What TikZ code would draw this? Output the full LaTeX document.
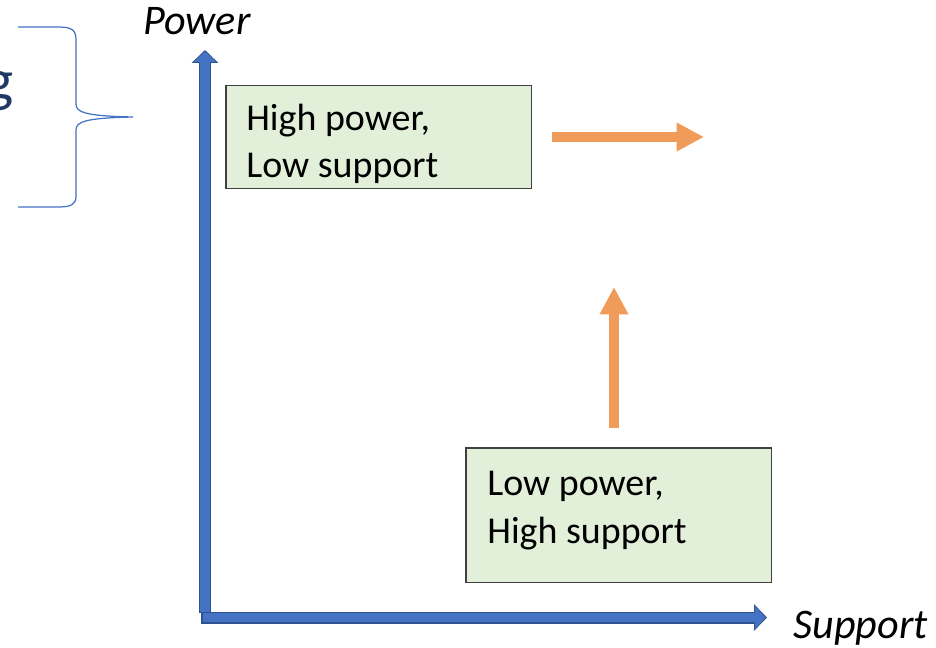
\documentclass[tikz,border=0pt]{standalone}
\usepackage{fontspec}
\setmainfont{Carlito}
\usepackage{xcolor}
\usepackage{tikz}
\usetikzlibrary{arrows.meta, positioning}
\definecolor{axisblue}{RGB}{68,114,196}
\definecolor{axisedge}{RGB}{47,82,143}
\definecolor{boxgreen}{RGB}{226,240,217}
\definecolor{pushorange}{RGB}{241,155,90}
\definecolor{navy}{RGB}{32,56,100}

\begin{document}
\begin{tikzpicture}[
  x=0.02cm, y=-0.02cm,
  box/.style={rectangle, draw=black!75, line width=0.03cm, fill=boxgreen, inner sep=0pt, anchor=north west},
  boxtext/.style={align=left, inner sep=0pt, anchor=base west, font=\fontsize{21.6}{27.3}\selectfont},
  axislabel/.style={inner sep=0pt, anchor=base west, font=\fontsize{24}{28}\selectfont\itshape},
  axis/.style={draw=axisedge, line width=0.24cm, -{Triangle[width=0.52cm, length=0.26cm]}},
  axisfill/.style={draw=axisblue, line width=0.19cm, shorten <=0.03cm, shorten >=0.03cm, -{Triangle[width=0.44cm, length=0.21cm]}},
  arrow/.style={draw=pushorange, line width=0.2cm, -{Triangle[width=0.54cm, length=0.55cm]}},
]
  \useasboundingbox (0,0) rectangle (936,648);

  \node[font=\fontsize{34}{40}\selectfont, text=navy, inner sep=0pt, anchor=base east] (cutword) at (14,101) {g};
  \draw[axisblue, line width=0.025cm] (18,27) -- (58,27) .. controls (72,27) and (76,30) .. (76,40) -- (76,104)
    .. controls (76,112) and (84,116) .. (133,117) .. controls (84,118) and (76,122) .. (76,130) -- (76,196)
    .. controls (76,204) and (72,207) .. (58,207) -- (18,207);

  \coordinate (origin) at (205,613);
  \coordinate (powertop) at (205,50);
  \coordinate (supportstart) at (201,617.5);
  \coordinate (supportend) at (767,617.5);
  \draw[axis] (origin) -- (powertop);
  \draw[axisfill] (origin) -- (powertop);
  \draw[axis] (supportstart) -- (supportend);
  \draw[axisfill] (supportstart) -- (supportend);

  \node[axislabel] (powerlabel) at (143,35) {Power};
  \node[axislabel] (supportlabel) at (793,638) {Support};

  \node[box, minimum width=6.12cm, minimum height=2.06cm] (highpower) at (225,85) {};
  \node[boxtext] (highpowertext) at (246,178) {High power,\\Low support};
  \node[box, minimum width=6.12cm, minimum height=2.7cm] (lowpower) at (465,447) {};
  \node[boxtext] (lowpowertext) at (487,543) {Low power,\\High support};

  \coordinate (shiftfrom) at (552,137);
  \coordinate (shiftto) at (704,137);
  \coordinate (risefrom) at (614,428);
  \coordinate (riseto) at (614,287);
  \draw[arrow] (shiftfrom) -- (shiftto);
  \draw[arrow] (risefrom) -- (riseto);
\end{tikzpicture}
\end{document}
